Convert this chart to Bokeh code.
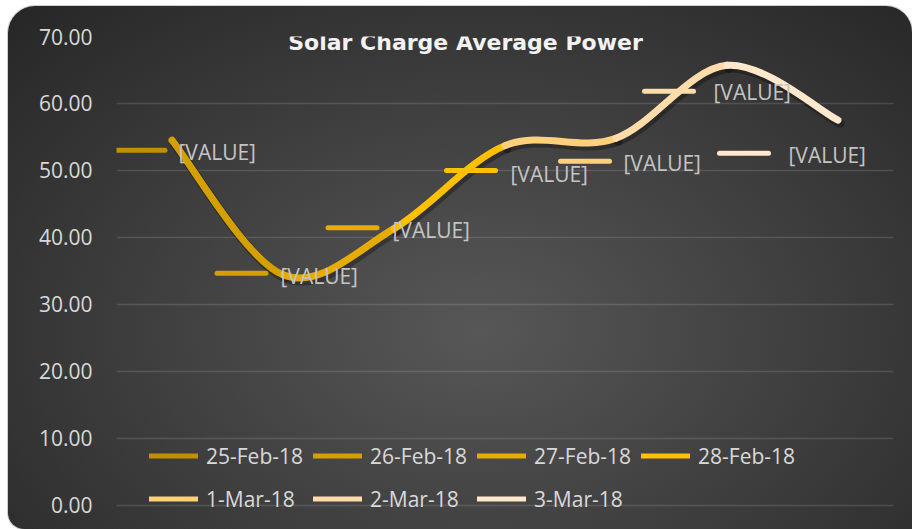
from bokeh.plotting import figure
from bokeh.models import Range1d, FixedTicker, NumeralTickFormatter, Label, Legend, LegendItem
from bokeh.core.properties import value
from bokeh.embed import file_html
from bokeh.resources import INLINE

# ---- data ----
dates = ["25-Feb-18", "26-Feb-18", "27-Feb-18", "28-Feb-18", "1-Mar-18", "2-Mar-18", "3-Mar-18"]
power = [54.5, 34.4, 41.3, 53.7, 54.8, 65.7, 57.5]
label_texts = ["[VALUE]"] * len(dates)
y_ticks = [0, 10, 20, 30, 40, 50, 60, 70]
title_text = "Solar Charge Average Power"

# ---- styles ----
colors = ["#BF9000", "#D4A000", "#E6AC00", "#FFC000", "#FFD07A", "#FFDCAA", "#FFE8CC"]
# data-label placement relative to each point, in px (y downwards)
key_dx = [-31.5, -41.5, -41.5, -34, -31, -58, -94]
key_dy = [10, -1.5, -1, 25, 23, 26, 33]
text_dx = [6.5, -2.5, -1.5, 5.5, 7.5, -13.5, -49.5]
text_dy = [12, 1.5, 1, 28, 25, 27, 35]
FONT = "Open Sans"

W, H = 904, 523
LEFT, TOP, RIGHT, BOTTOM = 108, 30, 19, 11
FRAME_W, FRAME_H = W - LEFT - RIGHT, H - TOP - BOTTOM
Y_MIN, Y_MAX = -2, y_ticks[-1]
n = len(dates)
px_x = n / FRAME_W
px_y = (Y_MAX - Y_MIN) / FRAME_H

p = figure(width=W, height=H, output_backend="svg", toolbar_location=None,
           x_range=Range1d(0, n), y_range=Range1d(Y_MIN, Y_MAX),
           min_border_left=LEFT, min_border_top=TOP, min_border_right=RIGHT,
           min_border_bottom=BOTTOM)
p.margin = (6, 0, 0, 8)
p.background_fill_alpha = 0
p.border_fill_alpha = 0
p.outline_line_color = None
p.styles = {
    "background": "radial-gradient(ellipse farthest-corner at 52% 62%, #575757 0%, #3c3c3c 55%, #262626 100%)",
    "border-radius": "27px 26px 0 16px",
    "box-shadow": "0 0 0 1px #cfcfcf",
}

p.xaxis.visible = False
p.xgrid.visible = False
p.yaxis.ticker = FixedTicker(ticks=y_ticks)
p.yaxis.formatter = NumeralTickFormatter(format="0.00")
p.yaxis.axis_line_color = None
p.yaxis.major_tick_line_color = None
p.yaxis.minor_tick_line_color = None
p.yaxis.major_tick_out = 0
p.yaxis.major_tick_in = 0
p.yaxis.major_label_standoff = 24
p.yaxis.major_label_text_font = FONT
p.yaxis.major_label_text_font_size = "21px"
p.yaxis.major_label_text_color = "#d9d9d9"
p.ygrid.grid_line_color = "white"
p.ygrid.grid_line_alpha = 0.13
p.ygrid.grid_line_width = 1.5

xs = [i + 0.5 for i in range(n)]

# smoothed line: bezier segments (Catmull-Rom style control points)
x0s, y0s, x1s, y1s, cx0s, cy0s, cx1s, cy1s = [], [], [], [], [], [], [], []
for i in range(n - 1):
    a = max(i - 1, 0)
    d = min(i + 2, n - 1)
    x0s.append(xs[i]); y0s.append(power[i])
    x1s.append(xs[i + 1]); y1s.append(power[i + 1])
    cx0s.append(xs[i] + (xs[i + 1] - xs[a]) / 6)
    cy0s.append(power[i] + (power[i + 1] - power[a]) / 6)
    cx1s.append(xs[i + 1] - (xs[d] - xs[i]) / 6)
    cy1s.append(power[i + 1] - (power[d] - power[i]) / 6)

# shadow
sdx, sdy = 2 * px_x, -3 * px_y
p.bezier(x0=[v + sdx for v in x0s], y0=[v + sdy for v in y0s],
         x1=[v + sdx for v in x1s], y1=[v + sdy for v in y1s],
         cx0=[v + sdx for v in cx0s], cy0=[v + sdy for v in cy0s],
         cx1=[v + sdx for v in cx1s], cy1=[v + sdy for v in cy1s],
         line_color="black", line_alpha=0.3, line_width=9, line_cap="round")
p.bezier(x0=x0s, y0=y0s, x1=x1s, y1=y1s, cx0=cx0s, cy0=cy0s, cx1=cx1s, cy1=cy1s,
         line_color=colors[1:], line_width=7, line_cap="round")

# data-label keys (also used as legend glyphs)
items = []
half = 24.5
for i in range(n):
    kx = xs[i] + key_dx[i] * px_x
    ky = power[i] - key_dy[i] * px_y
    r = p.segment(x0=[kx - half * px_x], y0=[ky], x1=[kx + half * px_x], y1=[ky],
                  line_color=colors[i], line_width=5, line_cap="round")
    items.append(LegendItem(label=dates[i], renderers=[r]))

p.text(x=xs, y=power, text=label_texts,
       x_offset=text_dx, y_offset=text_dy,
       text_font=value(FONT), text_font_size="21px", text_color="#c4c4c4",
       text_align="left", text_baseline="middle")

legend = Legend(items=items, orientation="horizontal", ncols=4,
                location=(33, 3), padding=0, margin=0, spacing=10,
                glyph_width=49, glyph_height=33, label_standoff=8,
                label_text_font=FONT, label_text_font_size="21px",
                label_text_color="#d9d9d9", border_line_color=None,
                background_fill_alpha=0)
p.add_layout(legend)

title = Label(x=349, y=476, x_units="screen", y_units="screen", text=title_text,
              text_align="center", text_baseline="middle", text_font="DejaVu Sans",
              text_font_size="22px", text_font_style="bold", text_color="#f2f2f2")
p.add_layout(title)

open("out.html", "w").write(file_html(p, INLINE))
